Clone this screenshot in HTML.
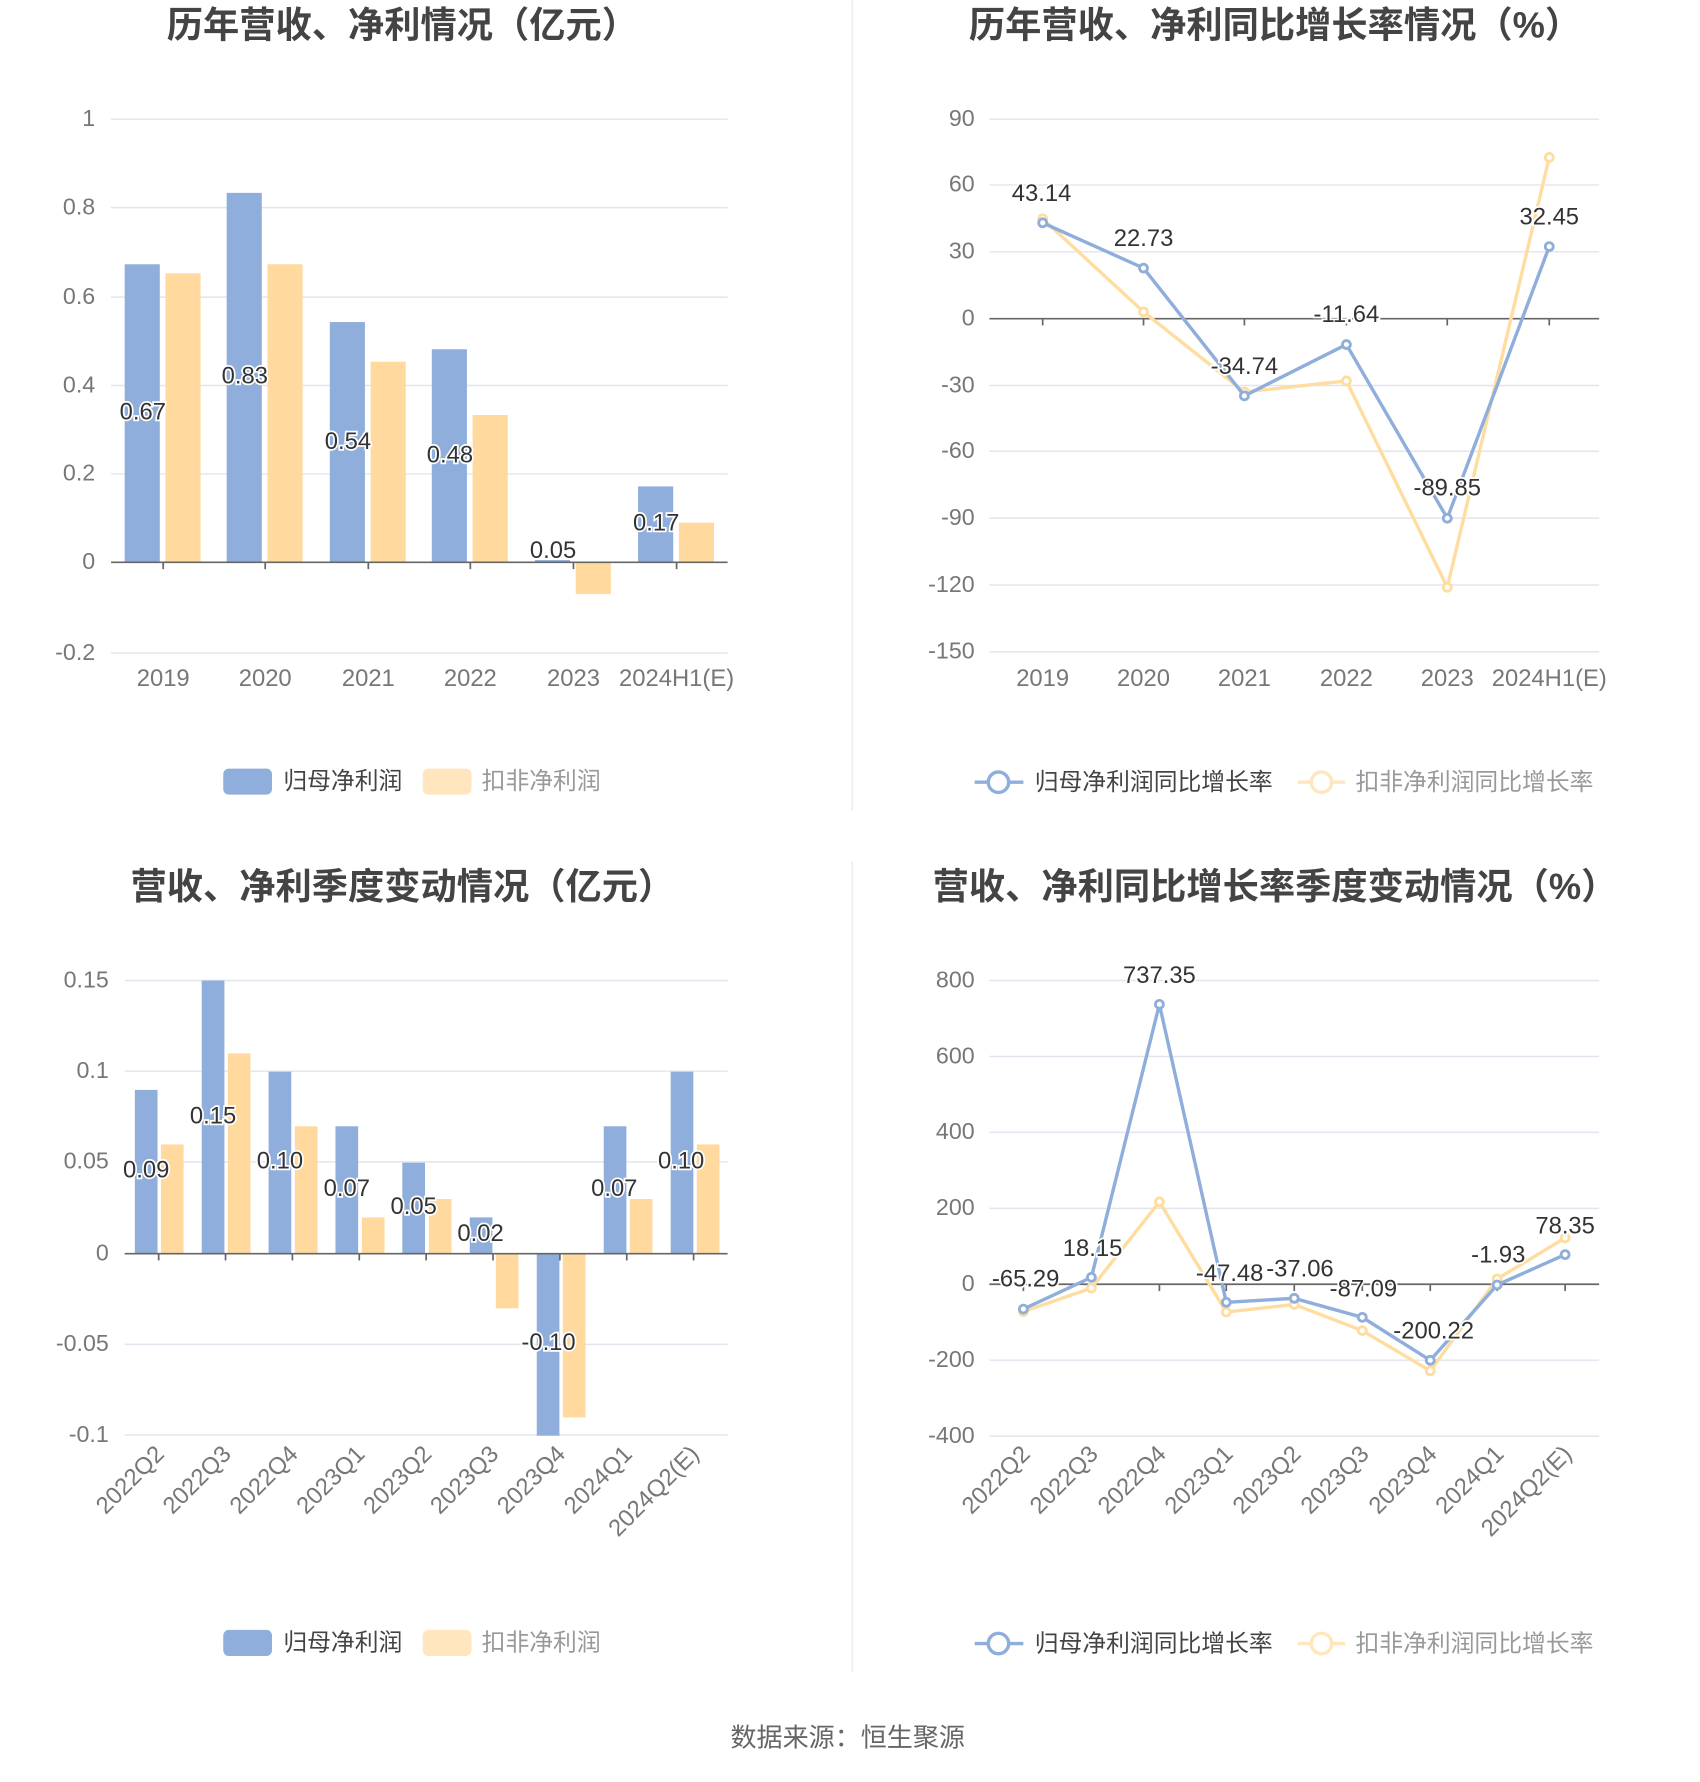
<!DOCTYPE html>
<html><head><meta charset="utf-8"><style>
html,body{margin:0;padding:0;background:#fff;}
svg{display:block;font-family:"Liberation Sans","Noto Sans CJK SC",sans-serif;}
.t{font-size:32px;font-weight:bold;fill:#444;text-anchor:middle;}
.yl{font-size:20.5px;fill:#777;text-anchor:end;}
.xl{font-size:21px;fill:#777;text-anchor:middle;}
.rl{font-size:21px;fill:#777;text-anchor:end;}
.g{stroke:#e2e5ee;stroke-width:1.3;}
.ax{stroke:#666;stroke-width:1.5;}
.v{font-size:21px;fill:#333;text-anchor:middle;stroke:#fff;stroke-width:3;paint-order:stroke;}
.lg{font-size:21px;fill:#444;}
.lg2{font-size:21px;fill:#999;}
</style></head><body>
<svg width="1700" height="1782" viewBox="0 0 1500 1572" xmlns="http://www.w3.org/2000/svg">
<line x1="752" y1="0" x2="752" y2="715" stroke="#eee" stroke-width="1.5"/>
<line x1="752" y1="760" x2="752" y2="1475" stroke="#eee" stroke-width="1.5"/>

<!-- Chart 1 -->
<text class="t" x="355" y="33">历年营收、净利情况（亿元）</text>
<g class="g"><line x1="98" y1="105" x2="642" y2="105"/><line x1="98" y1="183" x2="642" y2="183"/><line x1="98" y1="262" x2="642" y2="262"/><line x1="98" y1="340" x2="642" y2="340"/><line x1="98" y1="418" x2="642" y2="418"/><line x1="98" y1="576" x2="642" y2="576"/></g>
<g class="yl"><text x="84" y="111">1</text><text x="84" y="189">0.8</text><text x="84" y="268">0.6</text><text x="84" y="346">0.4</text><text x="84" y="424">0.2</text><text x="84" y="502">0</text><text x="84" y="582">-0.2</text></g>
<g fill="#8FAEDB"><rect x="110" y="233" width="31" height="263"/><rect x="200" y="170" width="31" height="326"/><rect x="291" y="284" width="31" height="212"/><rect x="381" y="308" width="31" height="188"/><rect x="472" y="494" width="31" height="2"/><rect x="563" y="429" width="31" height="67"/></g>
<g fill="#FFD99E"><rect x="146" y="241" width="31" height="255"/><rect x="236" y="233" width="31" height="263"/><rect x="327" y="319" width="31" height="177"/><rect x="417" y="366" width="31" height="130"/><rect x="508" y="496" width="31" height="28"/><rect x="599" y="461" width="31" height="35"/></g>
<line class="ax" x1="98" y1="496" x2="642" y2="496"/>
<g class="ax"><line x1="144" y1="496" x2="144" y2="502"/><line x1="234" y1="496" x2="234" y2="502"/><line x1="325" y1="496" x2="325" y2="502"/><line x1="415" y1="496" x2="415" y2="502"/><line x1="506" y1="496" x2="506" y2="502"/><line x1="597" y1="496" x2="597" y2="502"/></g>
<g class="v"><text x="126" y="370">0.67</text><text x="216" y="338">0.83</text><text x="307" y="396">0.54</text><text x="397" y="408">0.48</text><text x="488" y="492">0.05</text><text x="579" y="468">0.17</text></g>
<g class="xl"><text x="144" y="605">2019</text><text x="234" y="605">2020</text><text x="325" y="605">2021</text><text x="415" y="605">2022</text><text x="506" y="605">2023</text><text x="597" y="605">2024H1(E)</text></g>
<rect x="197" y="678" width="43" height="23" rx="5" fill="#8FAEDB"/><text class="lg" x="250" y="696">归母净利润</text>
<rect x="373" y="678" width="43" height="23" rx="5" fill="#FFE6BE"/><text class="lg2" x="425" y="696">扣非净利润</text>

<!-- Chart 2 -->
<text class="t" x="1125" y="33">历年营收、净利同比增长率情况（%）</text>
<g class="g"><line x1="873" y1="105" x2="1411" y2="105"/><line x1="873" y1="163" x2="1411" y2="163"/><line x1="873" y1="222" x2="1411" y2="222"/><line x1="873" y1="340" x2="1411" y2="340"/><line x1="873" y1="398" x2="1411" y2="398"/><line x1="873" y1="457" x2="1411" y2="457"/><line x1="873" y1="516" x2="1411" y2="516"/><line x1="873" y1="575" x2="1411" y2="575"/></g>
<g class="yl"><text x="860" y="111">90</text><text x="860" y="169">60</text><text x="860" y="228">30</text><text x="860" y="287">0</text><text x="860" y="346">-30</text><text x="860" y="404">-60</text><text x="860" y="463">-90</text><text x="860" y="522">-120</text><text x="860" y="581">-150</text></g>
<line class="ax" x1="873" y1="281" x2="1411" y2="281"/>
<g class="ax"><line x1="920" y1="281" x2="920" y2="287"/><line x1="1009" y1="281" x2="1009" y2="287"/><line x1="1098" y1="281" x2="1098" y2="287"/><line x1="1188" y1="281" x2="1188" y2="287"/><line x1="1277" y1="281" x2="1277" y2="287"/><line x1="1367" y1="281" x2="1367" y2="287"/></g>
<polyline points="920,192.8 1009,275 1098,345.7 1188,335.9 1277,518 1367,138.7" fill="none" stroke="#FFDDA0" stroke-width="3"/>
<g fill="#fff" stroke="#FFDDA0" stroke-width="2.5"><circle cx="920" cy="192.8" r="3.5"/><circle cx="1009" cy="275" r="3.5"/><circle cx="1098" cy="345.7" r="3.5"/><circle cx="1188" cy="335.9" r="3.5"/><circle cx="1277" cy="518" r="3.5"/><circle cx="1367" cy="138.7" r="3.5"/></g>
<polyline points="920,196.4 1009,236.4 1098,349.1 1188,303.8 1277,457.1 1367,217.4" fill="none" stroke="#8FAEDB" stroke-width="3"/>
<g fill="#fff" stroke="#8FAEDB" stroke-width="2.5"><circle cx="920" cy="196.4" r="3.5"/><circle cx="1009" cy="236.4" r="3.5"/><circle cx="1098" cy="349.1" r="3.5"/><circle cx="1188" cy="303.8" r="3.5"/><circle cx="1277" cy="457.1" r="3.5"/><circle cx="1367" cy="217.4" r="3.5"/></g>
<g class="v"><text x="919" y="177">43.14</text><text x="1009" y="217">22.73</text><text x="1098" y="330">-34.74</text><text x="1188" y="284">-11.64</text><text x="1277" y="437">-89.85</text><text x="1367" y="198">32.45</text></g>
<g class="xl"><text x="920" y="605">2019</text><text x="1009" y="605">2020</text><text x="1098" y="605">2021</text><text x="1188" y="605">2022</text><text x="1277" y="605">2023</text><text x="1367" y="605">2024H1(E)</text></g>
<line x1="860" y1="690" x2="903" y2="690" stroke="#8FAEDB" stroke-width="3"/><circle cx="881" cy="690" r="9" fill="#fff" stroke="#8FAEDB" stroke-width="3"/><text class="lg" x="913" y="697">归母净利润同比增长率</text>
<line x1="1145" y1="690" x2="1187" y2="690" stroke="#FFE6BE" stroke-width="3"/><circle cx="1166" cy="690" r="9" fill="#fff" stroke="#FFE6BE" stroke-width="3"/><text class="lg2" x="1196" y="697">扣非净利润同比增长率</text>

<!-- Chart 3 -->
<text class="t" x="355" y="793">营收、净利季度变动情况（亿元）</text>
<g class="g"><line x1="110" y1="865" x2="642" y2="865"/><line x1="110" y1="945" x2="642" y2="945"/><line x1="110" y1="1025" x2="642" y2="1025"/><line x1="110" y1="1186" x2="642" y2="1186"/><line x1="110" y1="1266" x2="642" y2="1266"/></g>
<g class="yl"><text x="96" y="871">0.15</text><text x="96" y="951">0.1</text><text x="96" y="1031">0.05</text><text x="96" y="1112">0</text><text x="96" y="1192">-0.05</text><text x="96" y="1272">-0.1</text></g>
<g fill="#8FAEDB"><rect x="119" y="961.5" width="20" height="144.5"/><rect x="178" y="865" width="20" height="241"/><rect x="237" y="945.4" width="20" height="160.6"/><rect x="296" y="993.6" width="20" height="112.4"/><rect x="355" y="1025.7" width="20" height="80.3"/><rect x="414.5" y="1074" width="20" height="32"/><rect x="473.6" y="1106" width="20" height="160.6"/><rect x="532.7" y="993.6" width="20" height="112.4"/><rect x="591.8" y="945.4" width="20" height="160.6"/></g>
<g fill="#FFD99E"><rect x="142" y="1009.6" width="20" height="96.4"/><rect x="201" y="929.3" width="20" height="176.7"/><rect x="260.2" y="993.6" width="20" height="112.4"/><rect x="319.3" y="1074" width="20" height="32"/><rect x="378.4" y="1057.8" width="20" height="48.2"/><rect x="437.5" y="1106" width="20" height="48.2"/><rect x="496.6" y="1106" width="20" height="144.5"/><rect x="555.7" y="1057.8" width="20" height="48.2"/><rect x="614.8" y="1009.6" width="20" height="96.4"/></g>
<line class="ax" x1="110" y1="1106" x2="642" y2="1106"/>
<g class="ax"><line x1="140" y1="1106" x2="140" y2="1112"/><line x1="199" y1="1106" x2="199" y2="1112"/><line x1="258" y1="1106" x2="258" y2="1112"/><line x1="317" y1="1106" x2="317" y2="1112"/><line x1="376" y1="1106" x2="376" y2="1112"/><line x1="435" y1="1106" x2="435" y2="1112"/><line x1="494" y1="1106" x2="494" y2="1112"/><line x1="553" y1="1106" x2="553" y2="1112"/><line x1="612" y1="1106" x2="612" y2="1112"/></g>
<g class="v"><text x="129" y="1039">0.09</text><text x="188" y="991">0.15</text><text x="247" y="1031">0.10</text><text x="306" y="1055">0.07</text><text x="365" y="1071">0.05</text><text x="424" y="1095">0.02</text><text x="484" y="1191">-0.10</text><text x="542" y="1055">0.07</text><text x="601" y="1031">0.10</text></g>
<g class="rl">
<text transform="translate(146,1284) rotate(-45)">2022Q2</text>
<text transform="translate(205,1284) rotate(-45)">2022Q3</text>
<text transform="translate(264,1284) rotate(-45)">2022Q4</text>
<text transform="translate(323,1284) rotate(-45)">2023Q1</text>
<text transform="translate(382,1284) rotate(-45)">2023Q2</text>
<text transform="translate(441,1284) rotate(-45)">2023Q3</text>
<text transform="translate(500,1284) rotate(-45)">2023Q4</text>
<text transform="translate(559,1284) rotate(-45)">2024Q1</text>
<text transform="translate(618,1284) rotate(-45)">2024Q2(E)</text>
</g>
<rect x="197" y="1438" width="43" height="23" rx="5" fill="#8FAEDB"/><text class="lg" x="250" y="1456">归母净利润</text>
<rect x="373" y="1438" width="43" height="23" rx="5" fill="#FFE6BE"/><text class="lg2" x="425" y="1456">扣非净利润</text>

<!-- Chart 4 -->
<text class="t" x="1125" y="793">营收、净利同比增长率季度变动情况（%）</text>
<g class="g"><line x1="873" y1="865" x2="1411" y2="865"/><line x1="873" y1="932" x2="1411" y2="932"/><line x1="873" y1="999" x2="1411" y2="999"/><line x1="873" y1="1066" x2="1411" y2="1066"/><line x1="873" y1="1200" x2="1411" y2="1200"/><line x1="873" y1="1267" x2="1411" y2="1267"/></g>
<g class="yl"><text x="860" y="871">800</text><text x="860" y="938">600</text><text x="860" y="1005">400</text><text x="860" y="1072">200</text><text x="860" y="1139">0</text><text x="860" y="1206">-200</text><text x="860" y="1273">-400</text></g>
<line class="ax" x1="873" y1="1133" x2="1411" y2="1133"/>
<g class="ax"><line x1="903" y1="1133" x2="903" y2="1139"/><line x1="963" y1="1133" x2="963" y2="1139"/><line x1="1023" y1="1133" x2="1023" y2="1139"/><line x1="1082" y1="1133" x2="1082" y2="1139"/><line x1="1142" y1="1133" x2="1142" y2="1139"/><line x1="1202" y1="1133" x2="1202" y2="1139"/><line x1="1262" y1="1133" x2="1262" y2="1139"/><line x1="1321" y1="1133" x2="1321" y2="1139"/><line x1="1381" y1="1133" x2="1381" y2="1139"/></g>
<polyline points="903,1157.1 963,1136.4 1023,1060.3 1082,1157.5 1142,1150.8 1202,1173.9 1262,1209.4 1321,1128.3 1381,1092.1" fill="none" stroke="#FFDDA0" stroke-width="3"/>
<g fill="#fff" stroke="#FFDDA0" stroke-width="2.5"><circle cx="903" cy="1157.1" r="3.5"/><circle cx="963" cy="1136.4" r="3.5"/><circle cx="1023" cy="1060.3" r="3.5"/><circle cx="1082" cy="1157.5" r="3.5"/><circle cx="1142" cy="1150.8" r="3.5"/><circle cx="1202" cy="1173.9" r="3.5"/><circle cx="1262" cy="1209.4" r="3.5"/><circle cx="1321" cy="1128.3" r="3.5"/><circle cx="1381" cy="1092.1" r="3.5"/></g>
<polyline points="903,1154.9 963,1126.9 1023,886 1082,1148.9 1142,1145.4 1202,1162.2 1262,1200.1 1321,1133.6 1381,1106.8" fill="none" stroke="#8FAEDB" stroke-width="3"/>
<g fill="#fff" stroke="#8FAEDB" stroke-width="2.5"><circle cx="903" cy="1154.9" r="3.5"/><circle cx="963" cy="1126.9" r="3.5"/><circle cx="1023" cy="886" r="3.5"/><circle cx="1082" cy="1148.9" r="3.5"/><circle cx="1142" cy="1145.4" r="3.5"/><circle cx="1202" cy="1162.2" r="3.5"/><circle cx="1262" cy="1200.1" r="3.5"/><circle cx="1321" cy="1133.6" r="3.5"/><circle cx="1381" cy="1106.8" r="3.5"/></g>
<g class="v"><text x="905" y="1135">-65.29</text><text x="964" y="1108">18.15</text><text x="1023" y="867">737.35</text><text x="1085" y="1130">-47.48</text><text x="1147" y="1126">-37.06</text><text x="1203" y="1144">-87.09</text><text x="1265" y="1181">-200.22</text><text x="1322" y="1114">-1.93</text><text x="1381" y="1088">78.35</text></g>
<g class="rl">
<text transform="translate(910,1284) rotate(-45)">2022Q2</text>
<text transform="translate(970,1284) rotate(-45)">2022Q3</text>
<text transform="translate(1030,1284) rotate(-45)">2022Q4</text>
<text transform="translate(1089,1284) rotate(-45)">2023Q1</text>
<text transform="translate(1149,1284) rotate(-45)">2023Q2</text>
<text transform="translate(1209,1284) rotate(-45)">2023Q3</text>
<text transform="translate(1269,1284) rotate(-45)">2023Q4</text>
<text transform="translate(1328,1284) rotate(-45)">2024Q1</text>
<text transform="translate(1388,1284) rotate(-45)">2024Q2(E)</text>
</g>
<line x1="860" y1="1450" x2="903" y2="1450" stroke="#8FAEDB" stroke-width="3"/><circle cx="881" cy="1450" r="9" fill="#fff" stroke="#8FAEDB" stroke-width="3"/><text class="lg" x="913" y="1457">归母净利润同比增长率</text>
<line x1="1145" y1="1450" x2="1187" y2="1450" stroke="#FFE6BE" stroke-width="3"/><circle cx="1166" cy="1450" r="9" fill="#fff" stroke="#FFE6BE" stroke-width="3"/><text class="lg2" x="1196" y="1457">扣非净利润同比增长率</text>

<text x="748" y="1541" style="font-size:23px;fill:#666;text-anchor:middle;">数据来源：恒生聚源</text>
</svg>
</body></html>
